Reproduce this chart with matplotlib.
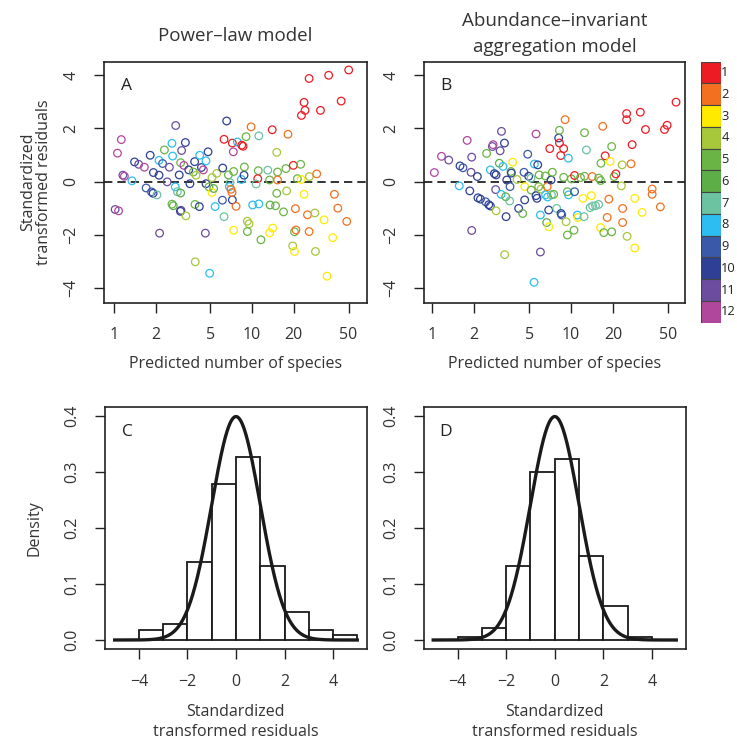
import numpy as np
import matplotlib
matplotlib.use("Agg")
import matplotlib.pyplot as plt
from matplotlib.ticker import NullLocator

plt.rcParams['font.family'] = ['Open Sans', 'DejaVu Sans']

W, H = 737, 740

# group colours (legend 1..12)
group_labels = [str(i) for i in range(1, 13)]
group_colors = ['#ED1C24', '#F37021', '#FFEA00', '#A6C83A', '#6AB445', '#5DAE47',
                '#6CC3A2', '#2DBDF0', '#3A59A8', '#2E3F95', '#6B4C9E', '#B0479C']

# panel A: power-law model (predicted, residual, group)
a_pred = [1.02, 1.08, 1.06, 1.13, 1.16, 1.19, 1.35, 1.41, 1.51, 1.66, 1.71, 1.83, 1.87, 1.92,
          1.93, 2.05, 2.12, 2.14, 2.12, 2.25, 2.32, 2.43, 2.52, 2.63, 2.66, 2.63, 2.69, 2.80,
          2.78, 2.88, 3.04, 2.97, 3.06, 3.03, 3.09, 3.04, 3.21, 3.29, 3.32, 3.48, 3.55, 3.76,
          3.93, 3.84, 3.86, 3.88, 4.18, 4.15, 4.30, 4.44, 4.59, 4.64, 4.80, 4.64, 4.88, 4.93,
          5.13, 5.13, 5.27, 5.40, 5.55, 6.13, 6.10, 6.27, 6.27, 6.55, 6.74, 6.93, 6.85, 7.20,
          7.20, 7.32, 7.36, 7.36, 7.16, 7.04, 7.66, 7.83, 8.42, 8.61, 8.37, 8.75, 8.80, 9.05,
          9.25, 9.51, 9.25, 9.84, 11.2, 10.1, 11.2, 11.6, 11.1, 11.0, 10.7, 13.0, 15.3, 13.4,
          15.3, 14.0, 15.1, 15.1, 17.8, 13.5, 14.8, 16.9, 14.1, 13.4, 17.6, 18.2, 19.9, 22.5,
          20.6, 19.7, 20.3, 20.3, 20.8, 21.3, 22.7, 23.8, 22.8, 24.2, 23.8, 25.9, 26.0, 25.2,
          25.9, 28.5, 28.8, 29.4, 31.3, 33.2, 34.9, 35.9, 38.4, 39.5, 41.8, 44.2, 48.5, 50.1]
a_resid = [-1.05, -1.10, 1.07, 1.58, 0.24, 0.20, 0.03, 0.74, 0.65, 0.54, -0.24, 0.99, -0.39, -0.44,
           0.34, -0.50, 0.24, -1.94, 0.80, 0.68, 1.19, -0.01, 0.54, 1.44, 0.96, -0.85, -0.91, 2.11,
           -0.20, -0.38, -0.43, 0.25, -1.08, -1.12, 1.17, 0.71, 0.61, 1.47, -1.29, 0.44, -0.08, 0.36,
           0.24, 0.75, -0.86, -3.02, 0.99, -0.94, 0.53, 0.44, -1.94, 0.78, 1.12, -0.08, -0.20, -3.45,
           0.15, -0.41, -0.26, -0.94, 0.31, 0.51, -0.70, -1.32, 1.59, 2.28, 0.25, -0.04, -0.19, 1.45,
           -0.69, 1.12, 0.38, -1.83, -0.41, -0.29, -0.93, 1.49, 1.37, 1.33, 0.08, 0.24, 0.55, 1.69,
           -1.49, -1.59, -1.88, 2.06, 1.72, -0.88, -0.84, -2.19, 0.41, 0.11, -0.09, 0.43, 0.36, 0.06,
           0.06, 1.95, 1.10, -0.44, -0.35, -0.88, -0.91, -1.14, -1.75, -1.93, 0.49, 1.78, 0.61, 0.65,
           -1.02, -2.42, -2.63, -1.89, -1.82, 0.11, 0.08, -0.48, 2.49, 2.68, 2.98, 3.88, 0.19, -1.25,
           -1.88, -1.18, -2.63, 0.29, 2.68, -1.44, -3.56, 4.00, -2.11, -0.48, -1.00, 3.03, -1.50, 4.20]
a_group = [11, 12, 12, 12, 11, 12, 8, 10, 11, 12, 9, 10, 9, 10,
           10, 7, 10, 11, 8, 9, 5, 11, 11, 8, 8, 5, 6, 11,
           8, 7, 6, 10, 11, 10, 11, 5, 12, 10, 4, 10, 10, 5,
           4, 10, 5, 4, 8, 10, 10, 12, 11, 8, 10, 10, 5, 8,
           4, 3, 6, 8, 4, 10, 9, 7, 1, 10, 5, 7, 8, 1,
           10, 12, 5, 3, 2, 2, 2, 8, 1, 1, 8, 10, 5, 5,
           4, 4, 5, 2, 7, 8, 8, 5, 5, 1, 7, 7, 5, 5,
           2, 1, 4, 5, 4, 6, 5, 5, 3, 3, 5, 2, 1, 5,
           2, 4, 3, 5, 2, 5, 3, 3, 1, 1, 1, 1, 4, 2,
           2, 4, 4, 2, 1, 3, 3, 1, 3, 2, 2, 1, 2, 1]

# panel B: abundance-invariant aggregation model
b_pred = [1.04, 1.17, 1.32, 1.57, 1.59, 1.67, 1.79, 1.87, 1.91, 1.93, 1.93, 2.12, 2.14, 2.23,
          2.43, 2.47, 2.56, 2.63, 2.63, 2.72, 2.75, 2.81, 2.89, 2.87, 2.89, 3.05, 3.09, 3.16,
          3.14, 3.24, 3.32, 3.33, 3.39, 3.41, 3.45, 3.64, 3.70, 3.72, 3.62, 3.80, 4.09, 4.20,
          4.49, 4.64, 4.59, 4.64, 4.88, 4.96, 5.15, 5.17, 5.42, 5.45, 5.60, 5.60, 5.69, 5.76,
          5.85, 5.90, 6.02, 6.02, 6.08, 6.53, 6.56, 6.68, 6.74, 6.78, 6.91, 6.93, 7.03, 7.18,
          7.23, 7.34, 7.50, 7.88, 8.15, 8.25, 8.25, 8.43, 8.47, 8.57, 8.85, 8.85, 9.06, 9.21,
          9.41, 9.57, 9.60, 9.40, 10.05, 10.5, 10.6, 10.6, 11.1, 11.2, 11.7, 12.2, 12.4, 12.5,
          12.5, 12.9, 13.7, 14.3, 15.0, 15.8, 14.2, 14.0, 15.8, 16.3, 16.3, 16.4, 16.9, 17.2,
          17.6, 18.2, 18.7, 19.1, 19.6, 19.6, 20.4, 21.0, 23.0, 23.3, 23.5, 23.5, 25.1, 25.1,
          25.3, 27.0, 27.5, 28.7, 28.7, 31.5, 32.4, 34.3, 38.3, 38.3, 43.9, 47.0, 49.1, 56.9]
b_resid = [0.34, 0.95, 0.81, -0.16, 0.59, 0.52, 1.55, -0.35, 0.35, 0.92, -1.84, 0.19, -0.61, -0.66,
           -0.76, 1.06, -0.87, -0.92, 0.44, 1.32, 1.39, 0.30, 0.25, -0.30, -1.10, 0.69, 1.16, 1.89,
           -0.48, 0.57, 1.45, -2.75, -0.57, -1.32, 0.06, -0.19, 0.38, 0.32, -0.73, 0.73, 0.08, -1.01,
           -1.20, -0.69, 0.35, -0.19, 1.03, 0.20, 0.13, -0.32, -3.79, 0.66, 1.79, -0.53, -0.63, 0.63,
           -0.19, 0.25, -1.26, -2.65, -0.28, 0.21, -0.50, -1.54, -0.19, -0.58, -1.07, -1.70, 1.24, 0.06,
           -0.50, 0.35, -0.48, -1.01, 1.64, 1.93, 1.45, 0.98, -1.20, -1.26, 1.24, 0.16, 2.33, -1.51,
           -2.01, 0.88, -0.50, -0.38, 0.10, -1.83, 0.23, -0.38, -1.26, -1.35, 0.15, -0.63, -1.32, 1.84,
           0.20, 1.19, -0.98, -0.92, -0.91, -0.86, 0.19, -0.53, 0.13, 0.04, -1.73, 0.69, 2.08, -1.92,
           0.97, -1.35, -0.66, 0.76, -1.89, 1.32, 0.19, 0.29, -0.16, 0.63, -1.01, -1.54, 2.56, 2.33,
           -2.06, 0.67, 1.39, -0.63, -2.50, 2.61, -1.16, 1.96, -0.28, -0.48, -0.95, 1.96, 2.12, 2.99]
b_group = [12, 12, 11, 8, 10, 9, 12, 10, 11, 11, 11, 10, 10, 10,
           9, 5, 10, 10, 8, 11, 12, 10, 10, 11, 4, 6, 11, 11,
           8, 8, 10, 4, 6, 10, 10, 9, 5, 10, 7, 3, 4, 10,
           5, 10, 9, 3, 9, 10, 7, 5, 8, 8, 12, 10, 10, 10,
           5, 5, 8, 11, 4, 5, 8, 6, 2, 8, 10, 3, 1, 10,
           7, 5, 5, 7, 10, 5, 1, 1, 10, 9, 1, 5, 2, 4,
           5, 8, 8, 5, 5, 5, 1, 9, 8, 3, 5, 3, 7, 5,
           5, 7, 7, 7, 7, 7, 2, 3, 5, 5, 3, 5, 2, 5,
           1, 2, 2, 3, 5, 5, 5, 1, 4, 4, 2, 2, 1, 1,
           4, 2, 1, 3, 3, 1, 3, 1, 2, 2, 2, 1, 1, 1]

# histograms of standardized residuals (density per unit bin)
bin_edges = [-5, -4, -3, -2, -1, 0, 1, 2, 3, 4, 5]
c_density = [0.0, 0.017, 0.028, 0.139, 0.279, 0.327, 0.133, 0.050, 0.017, 0.0095]
d_density = [0.0, 0.005, 0.022, 0.133, 0.300, 0.323, 0.150, 0.061, 0.005, 0.0]

x_ticks = [1, 2, 5, 10, 20, 50]


def rect(x0, y0, x1, y1):
    # pixel box -> figure fraction [left, bottom, width, height]
    return [x0 / W, 1 - y1 / H, (x1 - x0) / W, (y1 - y0) / H]


def ftext(fig, x, y, s, **kw):
    fig.text(x / W, 1 - y / H, s, **kw)


def style_axes(ax):
    for sp in ax.spines.values():
        sp.set_linewidth(1.2)
        sp.set_color('#222222')
    ax.tick_params(direction='out', length=7.2, width=1.0, pad=10.5,
                   labelsize=11.5, colors='#222222', labelcolor='#333333')
    plt.setp(ax.get_yticklabels(), rotation=90, va='center')


def scatter_panel(ax, pred, resid, group, letter, xlim):
    cols = [group_colors[g - 1] for g in group]
    ax.scatter(pred, resid, s=30, facecolors='none', edgecolors=cols, linewidths=0.9, zorder=3)
    ax.axhline(0, color='#111111', lw=1.2, dashes=(5, 3), zorder=2)
    ax.set_xscale('log')
    ax.set_xlim(*xlim)
    ax.set_ylim(-4.55, 4.5)
    ax.set_xticks(x_ticks)
    ax.set_xticklabels([str(t) for t in x_ticks])
    ax.xaxis.set_minor_locator(NullLocator())
    ax.set_yticks([-4, -2, 0, 2, 4])
    style_axes(ax)
    ax.text(0.085, 0.9, letter, transform=ax.transAxes, fontsize=12.5, color='#222222',
            ha='center', va='center')


def hist_panel(ax, dens, letter):
    ax.bar(bin_edges[:-1], dens, width=1, align='edge', facecolor='white',
           edgecolor='#1a1a1a', linewidth=1.3, zorder=2)
    xs = np.linspace(-5, 5, 400)
    ax.plot(xs, np.exp(-xs ** 2 / 2) / np.sqrt(2 * np.pi), color='#1a1a1a', lw=2.4, zorder=3)
    ax.set_xlim(-5.4, 5.4)
    ax.set_ylim(-0.0166, 0.4155)
    ax.set_xticks([-4, -2, 0, 2, 4])
    ax.set_yticks([0.0, 0.1, 0.2, 0.3, 0.4])
    ax.set_yticklabels(['0.0', '0.1', '0.2', '0.3', '0.4'])
    style_axes(ax)
    ax.text(0.085, 0.9, letter, transform=ax.transAxes, fontsize=12.5, color='#222222',
            ha='center', va='center')


fig = plt.figure(figsize=(W / 100, H / 100), dpi=100)

ax_a = fig.add_axes(rect(104, 62, 367, 302.5))
ax_b = fig.add_axes(rect(424, 62, 685, 302.5))
ax_c = fig.add_axes(rect(105, 407.3, 367, 649.3))
ax_d = fig.add_axes(rect(423.5, 407.3, 686, 649.3))

scatter_panel(ax_a, a_pred, a_resid, a_group, 'A', (0.847, 68))
scatter_panel(ax_b, b_pred, b_resid, b_group, 'B', (0.876, 66))
hist_panel(ax_c, c_density, 'C')
hist_panel(ax_d, d_density, 'D')

# titles
ftext(fig, 235.5, 41, 'Power\u2013law model', ha='center', va='baseline', fontsize=13.5, color='#333333')
ftext(fig, 554.5, 26, 'Abundance\u2013invariant', ha='center', va='baseline', fontsize=13.5, color='#333333')
ftext(fig, 554.5, 52, 'aggregation model', ha='center', va='baseline', fontsize=13.5, color='#333333')

# axis labels
for cx in (235.5, 554.5):
    ftext(fig, cx, 368, 'Predicted number of species', ha='center', va='baseline',
          fontsize=11.5, color='#333333')
    ftext(fig, cx, 715.5, 'Standardized', ha='center', va='baseline', fontsize=11.5, color='#333333')
    ftext(fig, cx, 736.5, 'transformed residuals', ha='center', va='baseline', fontsize=11.5, color='#333333')

ftext(fig, 28, 182, 'Standardized', ha='center', va='center', rotation=90, fontsize=11.5, color='#333333')
ftext(fig, 44, 182, 'transformed residuals', ha='center', va='center', rotation=90, fontsize=11.5, color='#333333')
ftext(fig, 34, 528, 'Density', ha='center', va='center', rotation=90, fontsize=11.5, color='#333333')

# colour key
ax_k = fig.add_axes(rect(700.7, 61.7, 720.7, 322.7))
n = len(group_labels)
for i, (lab, col) in enumerate(zip(group_labels, group_colors)):
    ax_k.bar(0, 1, bottom=n - 1 - i, width=1, color=col, edgecolor='#444444', linewidth=0.8)
    ax_k.text(0.53, n - 0.5 - i, lab, ha='left', va='center', fontsize=9.3, color='#222222')
ax_k.set_xlim(-0.5, 0.5)
ax_k.set_ylim(0, n)
ax_k.axis('off')

fig.savefig('out.png', dpi=100)
